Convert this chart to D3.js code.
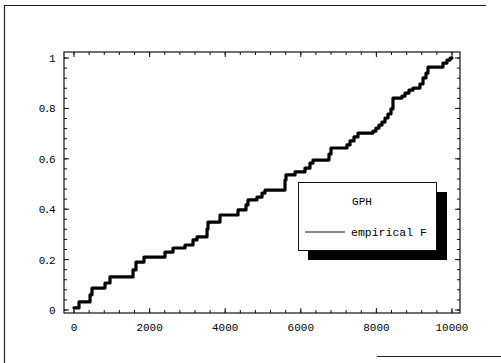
<!DOCTYPE html>
<html>
<head>
<meta charset="utf-8">
<script src="https://cdn.jsdelivr.net/npm/d3@7"></script>
<style>
  body{margin:0;background:#fff}
  text{font-family:"Liberation Mono","DejaVu Sans Mono",monospace;fill:#000}
</style>
</head>
<body>
<svg id="chart" width="501" height="363"></svg>
<script>
// jump locations of the empirical distribution (x) and the level after each jump (F)
const jumpX=[0,132,423,476,820,952,1561,1640,1852,2407,2619,2937,3148,3254,3519,3545,3862,4339,4550,4603,4841,4974,5053,5582,5608,5847,6111,6243,6323,6746,6799,7222,7302,7407,7513,7910,7989,8069,8148,8228,8307,8386,8439,8677,8757,8862,8968,9153,9233,9312,9365,9762,9868,9947]
const levelF=[0.008,0.032,0.06,0.087,0.107,0.131,0.159,0.19,0.21,0.23,0.246,0.258,0.278,0.29,0.321,0.349,0.377,0.397,0.417,0.437,0.448,0.464,0.476,0.516,0.536,0.548,0.563,0.583,0.595,0.619,0.643,0.655,0.671,0.687,0.702,0.71,0.722,0.734,0.746,0.762,0.778,0.798,0.841,0.849,0.861,0.873,0.881,0.897,0.921,0.94,0.964,0.98,0.992,1.0]
const xTicks=[0,2000,4000,6000,8000,10000]
const yTicks=[0,0.2,0.4,0.6,0.8,1]
const legendTitle='GPH'
const legendLabel='empirical F'

const svg=d3.select('#chart')
const x=d3.scaleLinear().domain([-265,10212]).range([64,460])
const y=d3.scaleLinear().domain([-0.012,1.024]).range([313,52])

// scanned page border: left, top and a piece of the bottom
const border=svg.append('g').attr('stroke','#222').attr('stroke-width',1.2)
border.append('line').attr('x1',4.5).attr('x2',4.5).attr('y1',5).attr('y2',363)
border.append('line').attr('x1',4).attr('x2',486).attr('y1',5.5).attr('y2',5.5)
border.append('line').attr('x1',377).attr('x2',501).attr('y1',356.5).attr('y2',356.5)

// inner tick marks on all four sides
const xMinor=d3.range(0,10201,400)
const yMinor=d3.range(0,1.021,0.04)
const g=svg.append('g')
function ticks(vals,isMajor){
  const len=isMajor?5:3
  vals.forEach(v=>{
    const px=x(v)
    g.append('line').attr('x1',px).attr('x2',px).attr('y1',313).attr('y2',313-len)
    g.append('line').attr('x1',px).attr('x2',px).attr('y1',52).attr('y2',52+len)
  })
}
function yticks(vals,isMajor){
  const len=isMajor?5:3
  vals.forEach(v=>{
    const py=y(v)
    g.append('line').attr('y1',py).attr('y2',py).attr('x1',64).attr('x2',64+len)
    g.append('line').attr('y1',py).attr('y2',py).attr('x1',460).attr('x2',460-len)
  })
}
ticks(xMinor,false)
ticks(xTicks,true)
yticks(yMinor,false)
yticks(yTicks,true)
g.selectAll('line').attr('stroke','#111').attr('stroke-width',1)

svg.append('rect')
  .attr('x',64).attr('y',52).attr('width',396).attr('height',261)
  .attr('fill','none').attr('stroke','#111').attr('stroke-width',1.2)

svg.selectAll('.xl').data(xTicks).enter().append('text')
  .attr('x',d=>x(d)).attr('y',331)
  .attr('text-anchor','middle').attr('font-size',11)
  .text(d=>d)
svg.selectAll('.yl').data(yTicks).enter().append('text')
  .attr('x',54).attr('y',d=>y(d)+4)
  .attr('text-anchor','end').attr('font-size',11).attr('letter-spacing',-1.5)
  .text(d=>d)

// the step curve
const pts=jumpX.map((d,i)=>[d,levelF[i]])
pts.push([10000,levelF[levelF.length-1]])
const line=d3.line()
  .x(d=>x(d[0]))
  .y(d=>y(d[1]))
  .curve(d3.curveStepAfter)
svg.append('path')
  .datum(pts)
  .attr('fill','none')
  .attr('stroke','#000')
  .attr('stroke-width',3.2)
  .attr('stroke-linejoin','round')
  .attr('stroke-linecap','round')
  .attr('d',line)

// legend with drop shadow
const lg=svg.append('g')
lg.append('rect').attr('x',308).attr('y',192).attr('width',139).attr('height',68).attr('fill','#000')
lg.append('rect').attr('x',298.5).attr('y',182.5).attr('width',138).attr('height',68)
  .attr('fill','#fff').attr('stroke','#111').attr('stroke-width',1)
lg.append('text').attr('x',362).attr('y',205).attr('text-anchor','middle').attr('font-size',11).text(legendTitle)
lg.append('line').attr('x1',305).attr('x2',345).attr('y1',232).attr('y2',232).attr('stroke','#111').attr('stroke-width',1)
lg.append('text').attr('x',351).attr('y',236).attr('font-size',11.5).text(legendLabel)
</script>
</body>
</html>
